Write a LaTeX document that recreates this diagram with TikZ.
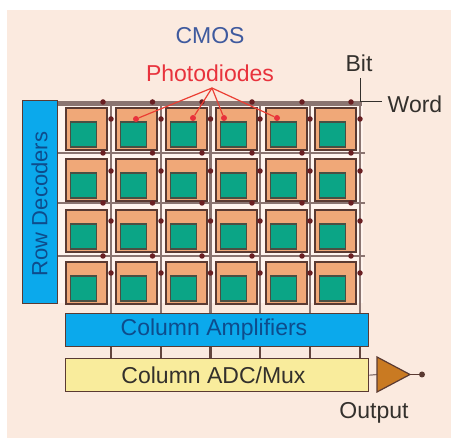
\documentclass[tikz,border=0pt]{standalone}
\usepackage{fontspec}
\setmainfont{Liberation Sans}
\usetikzlibrary{arrows.meta}
\definecolor{bgc}{HTML}{FBEADF}
\definecolor{blk}{HTML}{0BA9EC}
\definecolor{org}{HTML}{F0A878}
\definecolor{grn}{HTML}{0BA586}
\definecolor{edge}{HTML}{5A3A32}
\definecolor{wire}{HTML}{8A7470}
\definecolor{gapc}{HTML}{FFF4EE}
\definecolor{dotc}{HTML}{6A1F22}
\definecolor{yel}{HTML}{F9EC9C}
\definecolor{tri}{HTML}{C97A22}
\definecolor{redt}{HTML}{E8323C}
\definecolor{txtc}{HTML}{33302C}
\definecolor{navy}{HTML}{0E4C8C}
\definecolor{cmosc}{HTML}{3F5A9E}
\tikzset{x=1pt,y=-1pt,
 blockb/.style={draw=edge,line width=1.4pt,fill=#1,inner sep=0pt,anchor=north west},
 wireh/.style={draw=wire,line width=2.4pt},
 jn/.style={circle,fill=dotc,inner sep=0pt,minimum size=5.5pt},
 lab/.style={font=\fontsize{23}{26}\selectfont,text=txtc,inner sep=0pt},
 pdot/.style={circle,fill=redt,inner sep=0pt,minimum size=6pt},
 pdl/.style={draw=redt!85!orange,line width=1.2pt}}
\begin{document}
\begin{tikzpicture}
\useasboundingbox (0,0) rectangle (451,438);
\fill[white] (0,0) rectangle (451,438);
\fill[bgc] (7,10) rectangle (451,438);
% light gutters behind the array
\fill[gapc] (58,103) rectangle (363,303);
% word lines
\foreach \y in {153,203,256}{
  \draw[wireh] (58,\y) -- (365,\y);
}
\draw[wireh,line width=4.5pt] (58,103.5) -- (362,103.5);
% bit lines
\foreach \x in {111,161,210.5,260,310,360}{
  \draw[wireh] (\x,102) -- (\x,313);
  \draw[wireh,draw=edge!80!wire] (\x,346) -- (\x,358);
}
% cells
\foreach \r/\yy in {1/107,2/158,3/209,4/261}{
 \foreach \c/\xx in {1/65,2/115,3/165,4/215,5/265,6/314}{
  \node[blockb=org,line width=1.6pt,minimum width=41pt,minimum height=42pt] (cell\r\c) at (\xx,\yy) {};
  \node[blockb=grn,line width=1.3pt,draw=edge!80!grn,minimum width=26pt,minimum height=25pt] (pix\r\c) at (\xx+4.5,\yy+14.5) {};
 }
}
% junctions
\foreach \y in {102,153,203,256}{
 \foreach \x in {103,152.5,202,252,302,351}{
  \node[jn] at (\x,\y) {};
 }
}
\foreach \y in {119,171,221,273}{
 \foreach \x in {111,161,210.5,260,310,360}{
  \node[jn] at (\x,\y) {};
 }
}
% blocks
\node[blockb=blk,minimum width=35pt,minimum height=203pt] (row) at (22,100) {};
\node[lab,text=navy,rotate=90,font=\fontsize{22}{24}\selectfont] at (39.5,204) {Row Decoders};
\node[blockb=blk,minimum width=303pt,minimum height=33pt] (amp) at (65,313) {};
\node[lab,text=navy] at (214,329.5) {Column Amplifiers};
\node[blockb=yel,minimum width=303pt,minimum height=33pt] (adc) at (65,358) {};
\node[lab] at (213.5,375) {Column ADC/Mux};
% output
\coordinate (trib) at (377,374.5);
\coordinate (tip) at (410,374.5);
\node[circle,fill=edge,inner sep=0pt,minimum size=6pt] (out) at (422,374.5) {};
\draw[wire,line width=1.2pt] (adc.east) -- (trib);
\draw[edge,line width=1pt] (tip) -- (out);
\draw[edge,line width=1.2pt,fill=tri] (377,357) -- (tip) -- (377,392) -- cycle;
\node[lab] at (374,412.5) {Output};
% top labels
\node[lab,text=cmosc] at (210,36) {CMOS};
\node[lab,text=redt] at (210,73) {Photodiodes};
\node[lab] at (359,63) {Bit};
\node[lab] at (415,104) {Word};
\coordinate (bitc) at (360,102);
\coordinate (bitt) at (360,78);
\coordinate (wordr) at (382,102);
\draw[txtc,line width=1pt] (bitt) -- (bitc);
\draw[txtc,line width=1pt] (bitc) -- (wordr);
% photodiode pointers
\coordinate (fan) at (212,88);
\node[pdot] (p1) at (136,119) {};
\node[pdot] (p2) at (193,118) {};
\node[pdot] (p3) at (224,118) {};
\node[pdot] (p4) at (277,118) {};
\foreach \p in {p1,p2,p3,p4}{\draw[pdl] (fan) -- (\p);}
\end{tikzpicture}
\end{document}
